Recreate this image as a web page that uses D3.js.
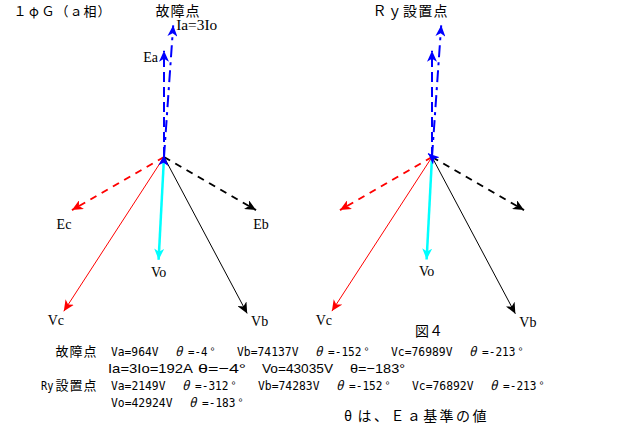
<!DOCTYPE html>
<html><head><meta charset="utf-8">
<script src="https://cdn.jsdelivr.net/npm/d3@7/dist/d3.min.js"></script>
<style>body{margin:0;background:#fff}svg{display:block}</style>
</head><body><svg id="c" width="632" height="429"></svg>
<script>
// ---- data ----
const phasors   = ["Ea","Eb","Ec","Ia","Va","Vb","Vc","Vo"];
const kinds     = ["V","V","V","I","V","V","V","V"];
const faultMag  = [44456,44456,44456,192,964,74137,76989,43035];
const faultAng  = [0,-120,-240,-4,-4,-152,-213,-183];
const ryMag     = [44456,44456,44456,192,2149,74283,76892,42924];
const ryAng     = [0,-120,-240,-4,-312,-152,-213,-183];
const faultLabels = ["Ea","Eb","Ec","Ia=3Io","","Vb","Vc","Vo"];
const ryLabels    = ["","","","","","Vb","Vc","Vo"];
const titles = ["１φＧ（ａ相）","故障点","Ｒｙ設置点"];
const figTitle = "図４";
const note = "θは、Ｅａ基準の値";
const faultName = "故障点", ryName = "Ry設置点";
const faultIa = 192, faultIaAng = -4;

// ---- styles ----
const colors = ["#0000ff","#000000","#ff0000","#0000ff","#0000ff","#000000","#ff0000","#00ffff"];
const dashes = ["10,5","7,6","7,6","12,5,3,5",null,null,null,null];
const widths = [2,2,2,2,1.5,1,1,2.5];
const labelOff = { Ea:[-6,11,"end"], Eb:[5,19,"middle"], Ec:[-8,19,"middle"], "Ia=3Io":[3,5,"start"],
                   Vb:[12.5,13,"middle"], Vc:[-8,14,"middle"], Vo:[0,17,"middle"] };
const gothic = "'Noto Sans CJK JP','Noto Sans',sans-serif";

const svg = d3.select("#c");
const vScale = d3.scaleLinear().domain([0,80000]).range([0,191.2]);
const iScale = d3.scaleLinear().domain([0,200]).range([0,137.5]);

const defs = svg.append("defs");
Array.from(new Set(colors)).forEach(c => {
  defs.append("marker").attr("id","m"+c.slice(1))
    .attr("viewBox","0 -5 11 10").attr("refX",11).attr("refY",0)
    .attr("markerWidth",11).attr("markerHeight",10)
    .attr("markerUnits","userSpaceOnUse").attr("orient","auto")
    .append("path").attr("d","M0,-5L11,0L0,5L3,0Z").attr("fill",c);
});

function diagram(ox, oy, mags, angs, labels){
  const g = svg.append("g").attr("transform",`translate(${ox},${oy})`);
  const rows = phasors.map((p,i)=>{
    const r = kinds[i]==="I" ? iScale(mags[i]) : vScale(mags[i]);
    const a = -angs[i]*Math.PI/180; // clockwise from Ea (up)
    return {p, i, x: r*Math.sin(a), y: -r*Math.cos(a), label: labels[i]};
  });
  const order = [7,5,6,1,2,4,0,3];
  g.selectAll("line.ph").data(order.map(k=>rows[k])).join("line")
    .attr("class","ph")
    .attr("x1",0).attr("y1",0)
    .attr("x2",d=>d.x).attr("y2",d=>d.y)
    .attr("stroke",d=>colors[d.i])
    .attr("stroke-width",d=>widths[d.i])
    .attr("stroke-dasharray",d=>dashes[d.i])
    .attr("marker-end",d=>`url(#m${colors[d.i].slice(1)})`);
  g.selectAll("text.lb").data(rows.filter(d=>d.label)).join("text")
    .attr("class","lb")
    .attr("x",d=>d.x+labelOff[d.label][0])
    .attr("y",d=>d.y+labelOff[d.label][1])
    .attr("text-anchor",d=>labelOff[d.label][2])
    .attr("font-family","'Liberation Serif',serif")
    .attr("font-size",14)
    .attr("textLength",d=>d.label==="Ia=3Io"?41:null)
    .attr("lengthAdjust","spacingAndGlyphs")
    .text(d=>d.label);
}
diagram(164,157,faultMag,faultAng,faultLabels);
diagram(432,157,ryMag,ryAng,ryLabels);

// fixed-cell text (each char centred in its full-width cell)
function cellText(str, x0, y, cell, fs){
  const g = svg.append("g");
  Array.from(str).forEach((ch,i)=>{
    g.append("text").attr("x",x0+cell*i+cell/2).attr("y",y)
      .attr("text-anchor","middle").attr("font-family",gothic).attr("font-size",fs).text(ch);
  });
}
cellText(titles[0],13,16,14,13);
cellText(titles[1],155,16,15,14);
cellText(titles[2],372,16,15.2,14);
cellText(figTitle,415,336,14,14);
cellText(note,340,421,16.4,14);

// monospace grid text (half = H, full = 2H)
const isFull = ch => ch.charCodeAt(0) > 255 || ch === "°";
function monoText(str, x0, y, H){
  const g = svg.append("g");
  let x = x0, run = "", runX = x0;
  const flush = ()=>{
    if(run.trim().length){
      g.append("text").attr("x",runX).attr("y",y).attr("font-family","'DejaVu Sans Mono',monospace")
        .attr("font-size",12.5).attr("textLength",run.length*H-1.5).attr("lengthAdjust","spacingAndGlyphs")
        .text(run);
    }
    run = "";
  };
  Array.from(str).forEach(ch=>{
    if(isFull(ch)){
      flush();
      if(ch!=="　"){
        const t = g.append("text").attr("y",y).attr("font-family",gothic).text(ch);
        if(ch==="θ") t.attr("x",x+1).attr("font-size",12.5).attr("font-style","italic");
        else if(ch==="°") t.attr("x",x+1.5).attr("font-size",11);
        else t.attr("x",x+H).attr("text-anchor","middle").attr("font-size",13);
      }
      x += 2*H; runX = x;
    } else { run += ch; x += H; }
  });
  flush();
}
const fmt = (n,v,u)=>`${n}=${v}${u}`;
const th = a=>`θ=${a}°`;
const row1 = [faultName, fmt("Va",faultMag[4],"V"), th(faultAng[4]), fmt("Vb",faultMag[5],"V"), th(faultAng[5]), fmt("Vc",faultMag[6],"V"), th(faultAng[6])];
const row3 = [ryName, fmt("Va",ryMag[4],"V"), th(ryAng[4]), fmt("Vb",ryMag[5],"V"), th(ryAng[5]), fmt("Vc",ryMag[6],"V"), th(ryAng[6])];
const row4 = [fmt("Vo",ryMag[7],"V"), th(ryAng[7])];
monoText(row1.join("　"), 55, 356, 7);
monoText(row3.join("　"), 41, 390, 7);
monoText(row4.join("　"), 111, 407, 7);

// second fault row (proportional font)
const row2 = [`Ia=3Io=${faultIa}A`, `θ=${String(faultIaAng).replace("-","−")}°`, fmt("Vo",faultMag[7],"V"), `θ=${String(faultAng[7]).replace("-","−")}°`];
const r2x = [108,198,262,350], r2w = [85,48,71,55];
svg.append("g").selectAll("text").data(row2).join("text")
  .attr("x",(d,i)=>r2x[i]).attr("y",373)
  .attr("font-family","'Liberation Sans',Arial,sans-serif").attr("font-size",13)
  .attr("textLength",(d,i)=>r2w[i]).attr("lengthAdjust","spacingAndGlyphs")
  .text(d=>d);
</script></body></html>
